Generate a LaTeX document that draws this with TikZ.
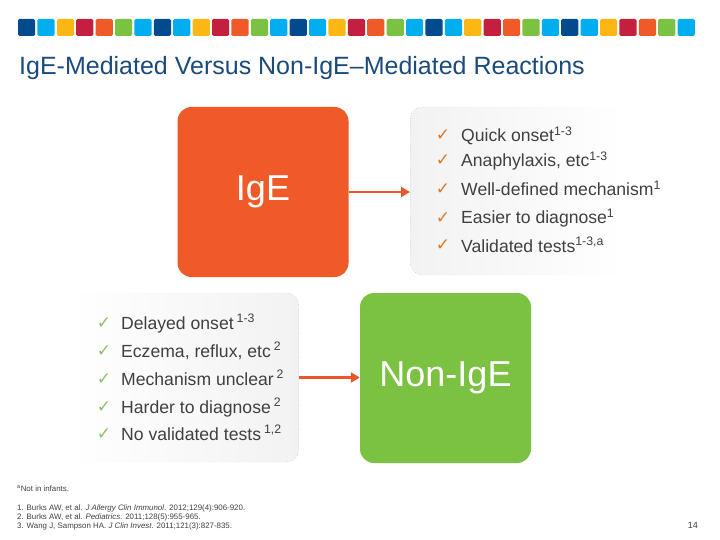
\documentclass[tikz,border=0pt]{standalone}
\usepackage{fontspec}
\setmainfont{Liberation Sans}
\newfontfamily\symfont{DejaVu Sans}
\usetikzlibrary{fadings,arrows.meta}
\definecolor{cDB}{HTML}{004A8D}
\definecolor{cLB}{HTML}{00ADEF}
\definecolor{cY}{HTML}{FDB714}
\definecolor{cR}{HTML}{C41F3E}
\definecolor{cO}{HTML}{F05A28}
\definecolor{cG}{HTML}{7BC142}
\definecolor{titleblue}{HTML}{1B4A7C}
\definecolor{txt}{HTML}{404040}
\definecolor{arrowc}{HTML}{E8562A}
\definecolor{chkO}{HTML}{DC7A2C}
\definecolor{chkG}{HTML}{8CC06A}
\begin{document}
\begin{tikzpicture}[x=1pt,y=-1pt,
  bigbox/.style={minimum width=171pt,minimum height=170pt,rounded corners=14pt,
    text=white,font=\fontsize{36}{40}\selectfont,inner sep=0pt},
  listbox/.style={draw=gray!80,dotted,fill=black!5,rounded corners=12pt,inner sep=0pt},
  item/.style={anchor=base west,inner sep=0pt,text=txt,font=\fontsize{17.6}{20}\selectfont},
  chk/.style={anchor=base,inner sep=0pt,font=\symfont\fontsize{17}{18}\selectfont},
  note/.style={anchor=base west,inner sep=0pt,text=black!75,font=\fontsize{7.9}{9}\selectfont},
  link/.style={draw=arrowc,line width=2.6pt,-{Triangle[length=9pt,width=10pt]}}
]
\useasboundingbox (0,0) rectangle (720,540);
% colour strip
\foreach \p in {0,...,4}
  \foreach \c [count=\k from 0] in {cDB,cLB,cY,cR,cO,cG,cLB}
    \fill[\c,rounded corners=1.5pt] ({18+19.4*(7*\p+\k)},19) rectangle ++(17.2,17);
% title
\node[anchor=base west,inner sep=0pt,text=titleblue,font=\fontsize{25}{29}\selectfont] (title) at (19,75)
  {IgE-Mediated Versus Non-IgE–Mediated Reactions};
% list boxes
\node[listbox,path fading=east,minimum width=215pt,minimum height=168pt,anchor=west] (plusbox) at (410,191) {};
\node[listbox,path fading=west,minimum width=230pt,minimum height=169pt,anchor=east] (minusbox) at (299,377.5) {};
% main boxes
\node[bigbox,fill=cO] (ige) at (263,192) {IgE};
\node[bigbox,fill=cG] (nonige) at (445.5,378) {Non-IgE};
% arrows
\draw[link] (ige.east) -- (ige.east -| plusbox.west);
\draw[link] (minusbox.east) -- (minusbox.east -| nonige.west);
% upper list
\foreach \y/\t [count=\n] in {142/{Quick onset\textsuperscript{1-3}},
  167/{Anaphylaxis, etc\textsuperscript{1-3}},
  196/{Well-defined mechanism\textsuperscript{1}},
  224/{Easier to diagnose\textsuperscript{1}},
  252/{Validated tests\textsuperscript{1-3,a}}}{
  \node[chk,text=chkO] (uc\n) at (443,\y-1) {✓};
  \node[item] (ut\n) at (461,\y) {\t};
}
% lower list
\foreach \y/\t [count=\n] in {329/{Delayed onset\,\textsuperscript{1-3}},
  357/{Eczema, reflux, etc\,\textsuperscript{2}},
  385/{Mechanism unclear\,\textsuperscript{2}},
  413/{Harder to diagnose\,\textsuperscript{2}},
  440/{No validated tests\,\textsuperscript{1,2}}}{
  \node[chk,text=chkG] (lc\n) at (104,\y-1) {✓};
  \node[item] (lt\n) at (121,\y) {\t};
}
% footnotes
\node[note] (fa) at (17,491) {\textsuperscript{a}Not in infants.};
\node[note] (f1) at (17,510) {1. Burks AW, et al. \textit{J Allergy Clin Immunol}. 2012;129(4):906-920.};
\node[note] (f2) at (17,519) {2. Burks AW, et al. \textit{Pediatrics}. 2011;128(5):955-965.};
\node[note] (f3) at (17,528.5) {3. Wang J, Sampson HA. \textit{J Clin Invest}. 2011;121(3):827-835.};
\node[note,anchor=base east,font=\fontsize{9}{10}\selectfont] (page) at (698,528) {14};
\end{tikzpicture}
\end{document}
